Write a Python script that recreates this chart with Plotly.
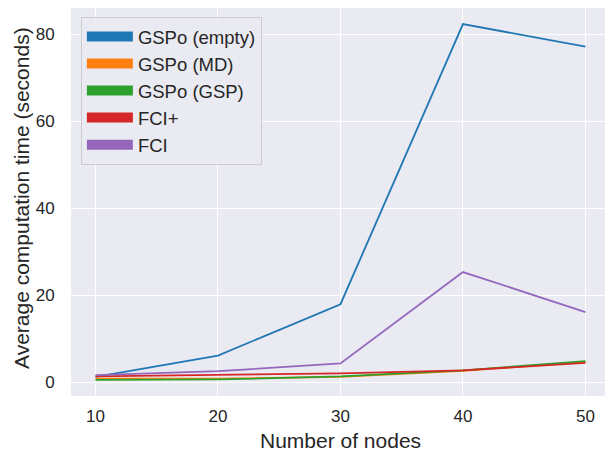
import plotly.graph_objects as go

nodes = [10, 20, 30, 40, 50]
gspo_empty = [1.2, 6.1, 17.9, 82.3, 77.1]
gspo_md = [0.8, 0.8, 1.2, 2.6, 4.6]
gspo_gsp = [0.5, 0.6, 1.3, 2.7, 4.8]
fci_plus = [1.3, 1.7, 2.0, 2.7, 4.4]
fci = [1.6, 2.5, 4.3, 25.3, 16.1]

series_names = ["GSPo (empty)", "GSPo (MD)", "GSPo (GSP)", "FCI+", "FCI"]
series_values = [gspo_empty, gspo_md, gspo_gsp, fci_plus, fci]
colors = ["#1f77b4", "#ff7f0e", "#2ca02c", "#d62728", "#9467bd"]

x_ticks = [10, 20, 30, 40, 50]
y_ticks = [0, 20, 40, 60, 80]

fig = go.Figure()
for name, vals, col in zip(series_names, series_values, colors):
    fig.add_trace(go.Scatter(x=nodes, y=vals, mode="lines", name=name,
                             line=dict(color=col, width=1.8), showlegend=False))
# legend swatches
for name, col in zip(series_names, colors):
    fig.add_trace(go.Scatter(x=[None], y=[None], mode="lines", name=name,
                             legendgroup=name,
                             line=dict(color=col, width=13)))

txt = "#262626"
fig.update_layout(
    width=620, height=451,
    margin=dict(l=71, r=0, t=8, b=55),
    paper_bgcolor="white", plot_bgcolor="#EAEAF2",
    font=dict(family="Liberation Sans, Arial, sans-serif", color=txt),
    showlegend=True,
    legend=dict(x=0.018, y=0.977, xanchor="left", yanchor="top",
                bgcolor="rgba(234,234,242,0.85)", bordercolor="#cccccc", borderwidth=1,
                font=dict(size=18.5, color=txt), tracegroupgap=0, itemwidth=46),
    xaxis=dict(range=[8, 52.82], tickvals=x_ticks, showgrid=True, gridcolor="white",
               gridwidth=1.2, zeroline=False, ticks="outside", ticklen=5,
               tickcolor="rgba(0,0,0,0)", tickfont=dict(size=17, color=txt),
               automargin=False),
    yaxis=dict(range=[-3.2, 86], tickvals=y_ticks, showgrid=True, gridcolor="white",
               gridwidth=1.2, zeroline=False, ticks="outside", ticklen=12,
               tickcolor="rgba(0,0,0,0)", tickfont=dict(size=17, color=txt),
               automargin=False),
    annotations=[
        dict(text="Number of nodes", x=30, xref="x", yref="paper", y=0,
             xanchor="center", yanchor="bottom", yshift=-58, showarrow=False,
             font=dict(size=21, color=txt)),
        dict(text="Average computation time (seconds)", xref="paper", yref="paper",
             x=0, y=0.5, xanchor="center", yanchor="middle", xshift=-50, yshift=4,
             textangle=-90, showarrow=False, font=dict(size=21, color=txt)),
    ],
)
fig.write_html("out.html", config={"displayModeBar": False},
               post_script="document.body.style.margin='0';document.body.style.padding='0';document.body.style.overflow='hidden';")
